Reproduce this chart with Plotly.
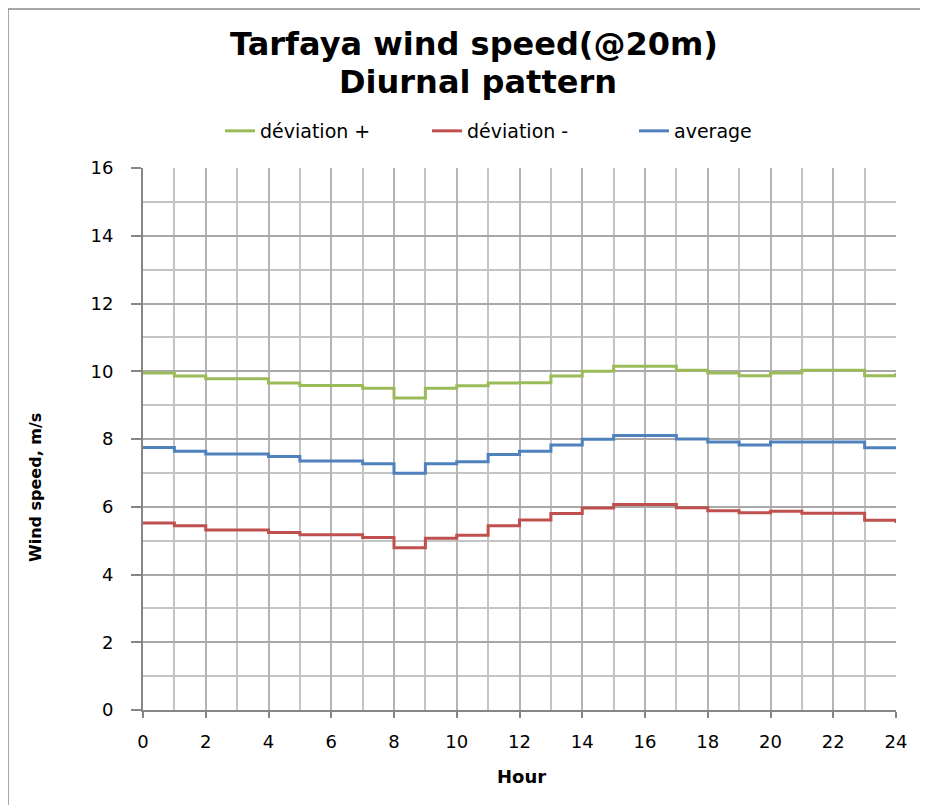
import plotly.graph_objects as go

hours = list(range(0, 25))
# hourly values (hour 24 repeats hour 0 to close the daily cycle)
dev_plus = [9.95, 9.86, 9.78, 9.78, 9.65, 9.58, 9.58, 9.50, 9.21, 9.50, 9.57, 9.65,
            9.66, 9.86, 10.00, 10.15, 10.15, 10.03, 9.95, 9.87, 9.95, 10.03, 10.03, 9.87, 9.95]
dev_minus = [5.52, 5.44, 5.31, 5.31, 5.24, 5.17, 5.17, 5.09, 4.79, 5.07, 5.16, 5.44,
             5.61, 5.80, 5.96, 6.07, 6.07, 5.97, 5.88, 5.82, 5.87, 5.81, 5.81, 5.60, 5.52]
average = [7.75, 7.64, 7.56, 7.56, 7.48, 7.35, 7.35, 7.27, 6.99, 7.27, 7.33, 7.54,
           7.64, 7.82, 7.99, 8.10, 8.10, 8.00, 7.91, 7.82, 7.91, 7.91, 7.91, 7.74, 7.75]

series_names = ["déviation +", "déviation -", "average"]
series_colors = ["#9BBB59", "#C0504D", "#4F81BD"]
x_ticks = list(range(0, 25, 2))
y_ticks = list(range(0, 17, 2))

FONT = "DejaVu Sans"

fig = go.Figure()
for name, vals, col in zip(series_names, [dev_plus, dev_minus, average], series_colors):
    fig.add_trace(go.Scatter(x=hours, y=vals, name=name, mode="lines",
                             line=dict(color=col, width=3, shape="hv")))

OFF = 8  # page body margin
W, H = 928 - OFF, 805 - OFF
L, T = 143 - OFF, 168 - OFF
R = W - (896 - OFF)
B = H - (710 - OFF)
pw, ph = W - L - R, H - T - B

def px(x):
    return (x - OFF - L) / pw

def py(y):
    return (H - B - (y - OFF)) / ph

fig.update_layout(
    width=W, height=H,
    margin=dict(l=L, r=R, t=T, b=B),
    paper_bgcolor="white", plot_bgcolor="white",
    font=dict(family=FONT, color="black"),
    title=dict(text="<b>Tarfaya wind speed(@20m)</b>",
               font=dict(family=FONT, size=32, color="black"),
               xref="paper", x=px(474), xanchor="center",
               yref="container", y=1 - (44 - OFF) / H, yanchor="middle"),
    legend=dict(orientation="h", x=px(220), xanchor="left", y=py(131), yanchor="middle",
                font=dict(family=FONT, size=19, color="black"),
                entrywidth=162, entrywidthmode="pixels", bgcolor="rgba(0,0,0,0)"),
    showlegend=True,
)

fig.update_xaxes(range=[0, 24], tickvals=x_ticks, ticktext=[str(v) for v in x_ticks],
                 showgrid=True, gridcolor="#b4b4b4", gridwidth=1.5,
                 minor=dict(dtick=1, showgrid=True, gridcolor="#c4c4c4", gridwidth=1.5),
                 showline=True, linecolor="#868686", linewidth=2,
                 ticks="outside", ticklen=6, tickcolor="#868686", tickwidth=1.5,
                 ticklabelstandoff=8,
                 tickfont=dict(family=FONT, size=18, color="black"), zeroline=False)
fig.update_yaxes(range=[0, 16], tickvals=y_ticks, ticktext=[str(v) for v in y_ticks],
                 showgrid=True, gridcolor="#a8a8a8", gridwidth=1.5,
                 minor=dict(dtick=1, showgrid=True, gridcolor="#c4c4c4", gridwidth=1.5),
                 showline=True, linecolor="#868686", linewidth=2,
                 ticks="outside", ticklen=10, tickcolor="#868686", tickwidth=1.5,
                 ticklabelstandoff=14,
                 tickfont=dict(family=FONT, size=18, color="black"), zeroline=False)

fig.add_annotation(text="<b>Diurnal pattern</b>", xref="paper", yref="paper",
                   x=px(478), y=py(82), showarrow=False,
                   xanchor="center", yanchor="middle",
                   font=dict(family=FONT, size=32, color="black"))
fig.add_annotation(text="<b>Wind speed, m/s</b>", xref="paper", yref="paper",
                   x=px(35), y=py(487), textangle=-90, showarrow=False,
                   xanchor="center", yanchor="middle",
                   font=dict(family=FONT, size=16, color="black"))
fig.add_annotation(text="<b>Hour</b>", xref="paper", yref="paper",
                   x=px(521), y=py(776), showarrow=False,
                   xanchor="center", yanchor="middle",
                   font=dict(family=FONT, size=18, color="black"))

fig.add_shape(type="rect", xref="paper", yref="paper",
              x0=px(8), x1=px(926), y0=py(840), y1=py(9),
              line=dict(color="#8a8a8a", width=1.5), fillcolor="rgba(0,0,0,0)", layer="below")

fig.write_html("out.html")
